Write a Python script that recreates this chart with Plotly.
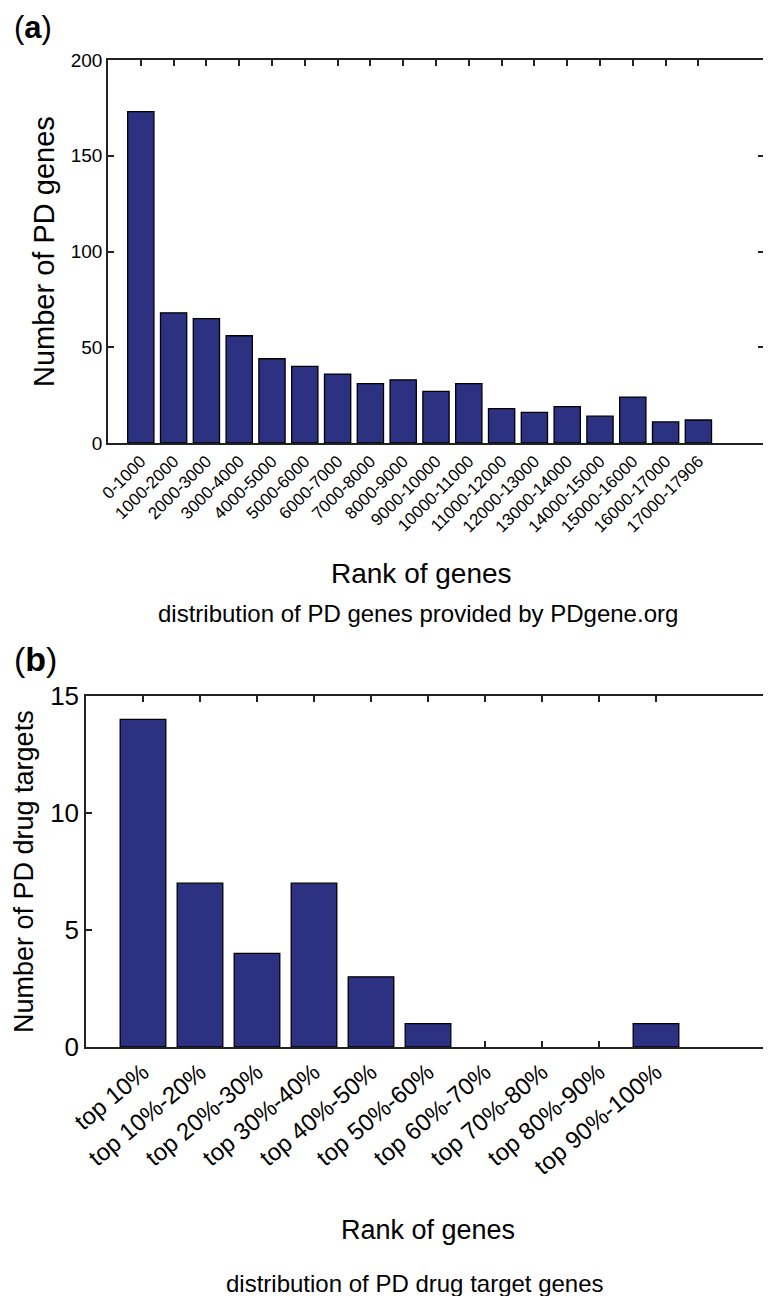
import plotly.graph_objects as go

W, H = 771, 1296
PAGE_PAD = 8  # body margin of the html page

# (a) PD genes from PDgene.org by rank bin
rank_bins = ["0-1000", "1000-2000", "2000-3000", "3000-4000", "4000-5000",
             "5000-6000", "6000-7000", "7000-8000", "8000-9000", "9000-10000",
             "10000-11000", "11000-12000", "12000-13000", "13000-14000",
             "14000-15000", "15000-16000", "16000-17000", "17000-17906"]
pd_genes = [173, 68, 65, 56, 44, 40, 36, 31, 33, 27, 31, 18, 16, 19, 14, 24, 11, 12]

# (b) PD drug targets by rank percentile
top_bins = ["top 10%", "top 10%-20%", "top 20%-30%", "top 30%-40%", "top 40%-50%",
            "top 50%-60%", "top 60%-70%", "top 70%-80%", "top 80%-90%", "top 90%-100%"]
drug_targets = [14, 7, 4, 7, 3, 1, 0, 0, 0, 1]

bar_color = "#2c3181"
FONT = "Liberation Sans, Arial, sans-serif"


# page pixel -> paper fraction
def px_x(x):
    return (x - PAGE_PAD) / W


def px_y(y):
    return 1 - (y - PAGE_PAD) / H


def outline(vals):
    # no outline on empty bars, matlab draws nothing there
    return dict(color="black", width=[1.3 if v > 0 else 0 for v in vals])


fig = go.Figure()
fig.add_trace(go.Bar(x=rank_bins, y=pd_genes, width=0.8, marker_color=bar_color,
                     marker_line=outline(pd_genes),
                     xaxis="x", yaxis="y", showlegend=False))
fig.add_trace(go.Bar(x=top_bins, y=drug_targets, width=0.8, marker_color=bar_color,
                     marker_line=outline(drug_targets),
                     xaxis="x2", yaxis="y2", showlegend=False))

axis_common = dict(showline=True, linecolor="#222", linewidth=1.5, mirror="ticks",
                   ticks="inside", ticklen=6, tickwidth=1.5, tickcolor="#222",
                   showgrid=False, zeroline=False, layer="below traces",
                   automargin=False)

fig.update_layout(
    width=W, height=H,
    margin=dict(l=0, r=0, t=0, b=0),
    paper_bgcolor="white", plot_bgcolor="white",
    font=dict(family=FONT, color="black"),
    bargap=0.2,
    xaxis=dict(axis_common, domain=[px_x(108), px_x(764)], anchor="y",
               type="category", range=[-1, len(rank_bins) + 1],
               tickangle=-45, tickfont=dict(size=17)),
    yaxis=dict(axis_common, domain=[px_y(443), px_y(60)], anchor="x",
               range=[0, 200], tickvals=[0, 50, 100, 150, 200],
               tickfont=dict(size=19)),
    xaxis2=dict(axis_common, domain=[px_x(86), px_x(770)], anchor="y2",
                type="category", range=[-1, len(top_bins) + 1],
                tickangle=-40, tickfont=dict(size=24)),
    yaxis2=dict(axis_common, domain=[px_y(1047), px_y(696)], anchor="x2",
                range=[0, 15], tickvals=[0, 5, 10, 15],
                tickfont=dict(size=26)),
)

texts = [
    ("(<b>a</b>)", 12, 27, 31, 0, "left"),
    ("Number of PD genes", 44, 252, 29, -90, "center"),
    ("Rank of genes", 421, 573, 28, 0, "center"),
    ("distribution of PD genes provided by PDgene.org", 418, 613, 24, 0, "center"),
    ("(<b>b</b>)", 12, 659, 34, 0, "left"),
    ("Number of PD drug targets", 24, 872, 27, -90, "center"),
    ("Rank of genes", 428, 1230, 27, 0, "center"),
    ("distribution of PD drug target genes", 415, 1283, 24, 0, "center"),
]
for txt, x, y, size, ang, anchor in texts:
    fig.add_annotation(text=txt, x=px_x(x), y=px_y(y), xref="paper", yref="paper",
                       xanchor=anchor, yanchor="middle", showarrow=False,
                       textangle=ang, font=dict(size=size, family=FONT, color="black"))

fig.write_html("out.html")
